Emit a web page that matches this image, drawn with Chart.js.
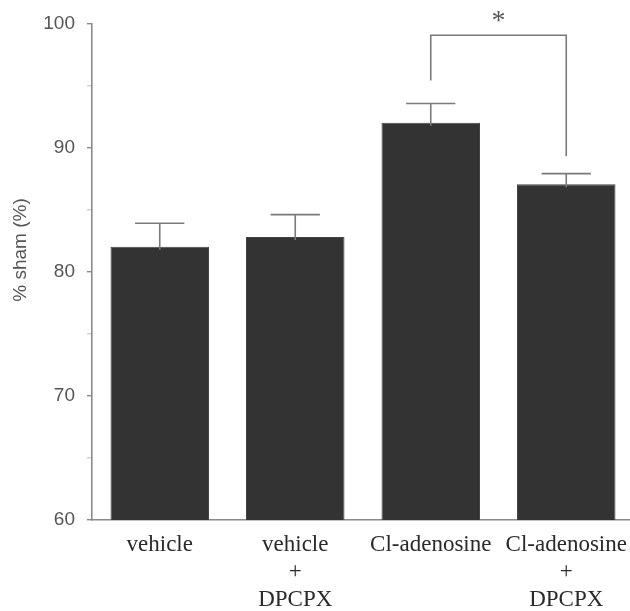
<!DOCTYPE html>
<html>
<head>
<meta charset="utf-8">
<script src="https://cdn.jsdelivr.net/npm/chart.js@4.4.1/dist/chart.umd.min.js"></script>
<style>
  html, body { margin: 0; padding: 0; background: #fff; overflow: hidden; }
  #wrap { width: 634px; height: 611px; }
</style>
</head>
<body>
<div id="wrap"><canvas id="chart" width="634" height="611"></canvas></div>
<script>
// groups on the x axis (multi-line labels)
const categories = [
  ['vehicle'],
  ['vehicle', '+', 'DPCPX'],
  ['Cl-adenosine'],
  ['Cl-adenosine', '+', 'DPCPX']
];
// mean % of sham, and the upward error (SEM)
const means = [82.0, 82.8, 92.0, 87.05];
const errors = [1.9, 1.8, 1.55, 0.85];

// y axis range
const yMin = 60;
const yMax = 100;
const yStep = 5;

// significance bracket between Cl-adenosine and Cl-adenosine + DPCPX
const bracketPair = [2, 3];
const bracketTop = 99.05;
const bracketLegEnds = [95.4, 89.3];
const bracketMark = '*';

const yTitle = '% sham (%)';

// error bars: vertical line from bar top plus a cap half the bar width
const errorBars = {
  id: 'errorBars',
  afterDatasetsDraw(chart) {
    const ctx = chart.ctx;
    const y = chart.scales.y;
    const meta = chart.getDatasetMeta(0);
    ctx.save();
    ctx.strokeStyle = '#7a7a7a';
    ctx.lineWidth = 1.6;
    meta.data.forEach((bar, i) => {
      const top = y.getPixelForValue(means[i] + errors[i]);
      const base = y.getPixelForValue(means[i]);
      const half = bar.width / 4;
      ctx.beginPath();
      ctx.moveTo(bar.x, base + 3);
      ctx.lineTo(bar.x, top);
      ctx.moveTo(bar.x - half, top);
      ctx.lineTo(bar.x + half, top);
      ctx.stroke();
    });
    ctx.restore();
  }
};

// significance bracket + asterisk
const sigBracket = {
  id: 'sigBracket',
  afterDatasetsDraw(chart) {
    const ctx = chart.ctx;
    const x = chart.scales.x;
    const y = chart.scales.y;
    const x1 = x.getPixelForValue(bracketPair[0]);
    const x2 = x.getPixelForValue(bracketPair[1]);
    const yt = y.getPixelForValue(bracketTop);
    ctx.save();
    ctx.strokeStyle = '#7a7a7a';
    ctx.lineWidth = 1.6;
    ctx.beginPath();
    ctx.moveTo(x1, y.getPixelForValue(bracketLegEnds[0]));
    ctx.lineTo(x1, yt);
    ctx.lineTo(x2, yt);
    ctx.lineTo(x2, y.getPixelForValue(bracketLegEnds[1]));
    ctx.stroke();
    ctx.fillStyle = '#555';
    ctx.font = '28px "Liberation Serif", "DejaVu Serif", serif';
    ctx.textAlign = 'center';
    ctx.textBaseline = 'alphabetic';
    ctx.fillText(bracketMark, (x1 + x2) / 2, yt - 6);
    ctx.restore();
  }
};

// rotated y title, sits a little above the middle of the axis like the original
const yTitlePlugin = {
  id: 'yTitlePlugin',
  afterDraw(chart) {
    const ctx = chart.ctx;
    ctx.save();
    ctx.translate(21, 250);
    ctx.rotate(-Math.PI / 2);
    ctx.fillStyle = '#555';
    ctx.font = '19px "Liberation Sans", Arial, sans-serif';
    ctx.textAlign = 'center';
    ctx.textBaseline = 'middle';
    ctx.fillText(yTitle, 0, 0);
    ctx.restore();
  }
};

new Chart(document.getElementById('chart'), {
  type: 'bar',
  data: {
    labels: categories,
    datasets: [{
      data: means,
      backgroundColor: '#333333',
      borderColor: '#444444',
      borderWidth: 1,
      barPercentage: 0.727,
      categoryPercentage: 1.0
    }]
  },
  options: {
    responsive: false,
    animation: false,
    layout: { padding: { top: 22, left: 0, right: 0, bottom: 0 } },
    plugins: {
      legend: { display: false },
      tooltip: { enabled: false }
    },
    scales: {
      x: {
        grid: { display: false, drawTicks: false },
        border: { display: true, color: '#8a8a8a', width: 1.6 },
        ticks: {
          color: '#2a2a2a',
          padding: 11,
          maxRotation: 0,
          autoSkip: false,
          font: { family: '"Liberation Serif", "Times New Roman", serif', size: 23, lineHeight: '27.5px' }
        },
        afterFit(scale) {
          scale.height = 91;
          // labels fit inside their category, no extra side room needed
          scale.paddingLeft = 0;
          scale.paddingRight = 0;
        }
      },
      y: {
        min: yMin,
        max: yMax,
        grid: {
          drawOnChartArea: false,
          drawTicks: true,
          tickLength: 5,
          lineWidth: 1.4,
          tickColor: c => (c.tick && c.tick.value % 10 === 0) ? '#8a8a8a' : '#d0d0d0'
        },
        border: { display: true, color: '#8a8a8a', width: 1.6 },
        ticks: {
          stepSize: yStep,
          padding: 12,
          color: '#555',
          font: { family: '"Liberation Sans", Arial, sans-serif', size: 19 },
          callback: v => (v % 10 === 0 ? v : '')
        },
        afterFit(scale) { scale.width = 92; }
      }
    }
  },
  plugins: [errorBars, sigBracket, yTitlePlugin]
});
</script>
</body>
</html>
